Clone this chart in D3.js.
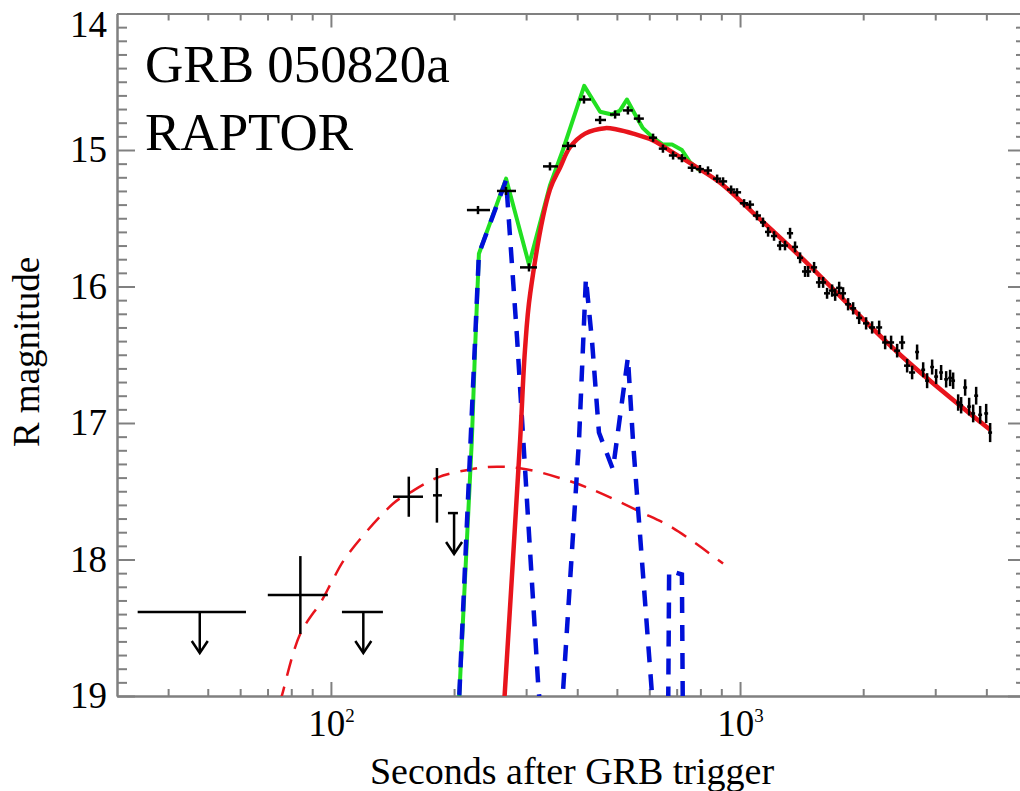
<!DOCTYPE html>
<html>
<head>
<meta charset="utf-8">
<script src="https://cdn.jsdelivr.net/npm/d3@7"></script>
<style>
body { margin: 0; background: #fff; }
text { font-family: "Liberation Serif", "Times New Roman", serif; fill: #000; }
.axis path, .axis line { stroke: #808080; stroke-width: 2; }
</style>
</head>
<body>
<div id="chart"></div>
<script>

// x ticks (seconds, log) and y ticks (R mag)
var xMajor = [100, 1000];
var xMinor = [40, 50, 60, 70, 80, 90, 200, 300, 400, 500, 600, 700, 800, 900, 2000, 3000, 4000];
var yMajor = [14, 15, 16, 17, 18, 19];

// model curves
var redSolidT   = [262, 266, 290, 298, 307, 343, 363, 384, 418, 468, 500, 548, 613, 686, 768, 894, 1076, 1402, 2462, 4086];
var redSolidMag = [19.3, 18.98, 17.13, 16.47, 16.05, 15.29, 15.13, 14.98, 14.88, 14.84, 14.85, 14.88, 14.93, 15.02, 15.11, 15.24, 15.46, 15.78, 16.50, 17.05];

var greenT   = [203, 206, 221, 225, 230, 268, 305, 343, 369, 416, 455, 486, 509, 529, 554, 579, 613, 648, 682, 721, 755, 798];
var greenMag = [19.2, 18.99, 17.13, 16.47, 15.76, 15.21, 15.84, 15.26, 15.00, 14.53, 14.72, 14.74, 14.71, 14.63, 14.74, 14.84, 14.91, 14.96, 14.96, 15.00, 15.09, 15.15];

var blueT   = [203, 206, 230, 268, 285, 321, 327, 367, 369, 404, 420, 435, 452, 489, 532, 548, 609, 616, 667, 671, 721, 725];
var blueMag = [19.2, 18.99, 15.76, 15.22, 16.37, 18.91, 19.2, 19.2, 18.98, 17.13, 15.94, 16.41, 17.07, 17.34, 16.52, 17.15, 18.98, 19.2, 19.2, 18.08, 18.11, 19.2];

var redDashT   = [75, 76, 84, 95, 101, 109, 142, 156, 182, 219, 255, 302, 378, 437, 570, 686, 909];
var redDashMag = [19.05, 18.99, 18.55, 18.30, 18.15, 17.98, 17.59, 17.51, 17.40, 17.34, 17.32, 17.34, 17.42, 17.49, 17.65, 17.77, 18.03];

// upper limits: [t, tLo, tHi, mag]
var upperLimits = [
    [47.8, 33.7, 62.0, 18.385],
    [120, 106.4, 134.0, 18.385],
    [200, 193.2, 204.4, 17.66]
];

// early detections: [t, tLo, tHi, mag, magErr]
var earlyPoints = [
    [84.2, 70.1, 98.3, 18.26, 0.285],
    [155, 141.8, 167.9, 17.54, 0.147],
    [181.6, 177.6, 186.8, 17.53, 0.20],
    [228.8, 215, 244.8, 15.44, 0.03],
    [267.9, 254.6, 283.4, 15.30, 0.03],
    [304.9, 289.8, 318.9, 15.86, 0.03],
    [343.1, 329.9, 358.9, 15.12, 0.03],
    [379.7, 367.1, 397.2, 14.97, 0.03],
    [415.5, 404.1, 432.2, 14.63, 0.03],
    [454.8, 442.1, 470.3, 14.78, 0.03]
];

// later detections: [t, dt, mag, magErr]
var decayPoints = [
    [495, 14, 14.74, 0.03], [532, 15, 14.71, 0.03], [566, 16, 14.77, 0.03],
    [613, 14, 14.91, 0.03], [648, 15, 14.99, 0.03], [686, 16, 15.04, 0.03],
    [721, 17, 15.06, 0.03], [763, 18, 15.13, 0.03], [798, 18, 15.14, 0.03],
    [835, 19, 15.15, 0.03], [879, 20, 15.21, 0.03], [909, 21, 15.23, 0.03],
    [951, 22, 15.29, 0.03], [983, 23, 15.31, 0.03], [1023, 24, 15.39, 0.03],
    [1058, 24, 15.40, 0.03], [1100, 25, 15.48, 0.035], [1138, 19, 15.53, 0.035],
    [1171, 20, 15.60, 0.035], [1211, 21, 15.63, 0.035], [1252, 21, 15.70, 0.035],
    [1288, 22, 15.70, 0.035], [1325, 23, 15.61, 0.04], [1363, 23, 15.71, 0.04],
    [1402, 24, 15.79, 0.04], [1442, 25, 15.89, 0.04], [1467, 25, 15.89, 0.04],
    [1517, 26, 15.86, 0.04], [1560, 27, 15.97, 0.04], [1596, 27, 15.97, 0.04],
    [1632, 28, 16.05, 0.04], [1679, 29, 16.03, 0.045], [1708, 29, 16.06, 0.045],
    [1747, 30, 16.01, 0.045], [1786, 30, 16.05, 0.045], [1837, 31, 16.13, 0.045],
    [1890, 32, 16.16, 0.045], [1955, 33, 16.23, 0.045], [2033, 35, 16.27, 0.045],
    [2103, 36, 16.30, 0.045], [2188, 37, 16.30, 0.05], [2263, 38, 16.41, 0.05],
    [2340, 40, 16.41, 0.05], [2421, 41, 16.47, 0.05], [2490, 42, 16.41, 0.05],
    [2561, 44, 16.58, 0.05], [2634, 45, 16.63, 0.05], [2709, 30, 16.48, 0.055],
    [2803, 31, 16.61, 0.055], [2866, 32, 16.69, 0.055], [2948, 32, 16.59, 0.055],
    [3015, 33, 16.66, 0.055], [3101, 34, 16.63, 0.055], [3190, 35, 16.68, 0.06],
    [3262, 36, 16.67, 0.06], [3318, 36, 16.69, 0.06], [3413, 38, 16.85, 0.06],
    [3471, 38, 16.87, 0.06], [3550, 39, 16.74, 0.06], [3631, 40, 16.88, 0.065],
    [3714, 41, 16.93, 0.065], [3777, 42, 16.80, 0.065], [3863, 42, 16.94, 0.065],
    [3996, 44, 16.93, 0.07], [4086, 45, 17.07, 0.07]
];


var margin = {top: 13.5, left: 117};
var width = 909;
var height = 682.5;

var svg = d3.select("#chart")
    .append("svg")
    .attr("width", 1020)
    .attr("height", 791);

var g = svg.append("g")
    .attr("transform", "translate(" + margin.left + "," + margin.top + ")");

var x = d3.scaleLog().domain([30, 5000]).range([0, width]);
var y = d3.scaleLinear().domain([14, 19]).range([0, height]);

g.append("clipPath")
    .attr("id", "plotClip")
    .append("rect")
    .attr("width", width)
    .attr("height", height);


// axes, ticks pointing inward on all four sides
var yMinor = d3.range(140, 191).map(function(v) { return v / 10; })
    .filter(function(v) { return yMajor.indexOf(v) < 0; });

function addAxis(axis, tr) {
    return g.append("g")
        .attr("class", "axis")
        .attr("transform", tr)
        .call(axis);
}

addAxis(d3.axisBottom(x).tickValues(xMinor).tickSizeInner(-7).tickSizeOuter(0).tickFormat(""), "translate(0," + height + ")");
var xb = addAxis(d3.axisBottom(x).tickValues(xMajor).tickSizeInner(-14).tickSizeOuter(0).tickFormat(""), "translate(0," + height + ")");
addAxis(d3.axisTop(x).tickValues(xMinor).tickSizeInner(-7).tickSizeOuter(0).tickFormat(""), "translate(0,0)");
addAxis(d3.axisTop(x).tickValues(xMajor).tickSizeInner(-14).tickSizeOuter(0).tickFormat(""), "translate(0,0)");

addAxis(d3.axisLeft(y).tickValues(yMinor).tickSizeInner(-10).tickSizeOuter(0).tickFormat(""), "translate(0,0)");
var yl = addAxis(d3.axisLeft(y).tickValues(yMajor).tickSizeInner(-18).tickSizeOuter(0).tickPadding(10).tickFormat(d3.format("d")), "translate(0,0)");
addAxis(d3.axisRight(y).tickValues(yMinor).tickSizeInner(-10).tickSizeOuter(0).tickFormat(""), "translate(" + width + ",0)");
addAxis(d3.axisRight(y).tickValues(yMajor).tickSizeInner(-18).tickSizeOuter(0).tickFormat(""), "translate(" + width + ",0)");

yl.selectAll(".tick text")
    .attr("font-size", 37)
    .attr("font-family", null)
    .attr("dy", function(d) { return d == 14 ? "0.62em" : "0.32em"; });

// 10^n labels under the major ticks
xb.selectAll(".tick").each(function(d) {
    var t = d3.select(this).append("text")
        .attr("y", 40)
        .attr("text-anchor", "middle")
        .attr("font-size", 37);
    t.append("tspan").text("10");
    t.append("tspan")
        .attr("dy", -14.5)
        .attr("font-size", 19)
        .text(Math.round(Math.log10(d)));
});


// model curves
function series(ts, ms) {
    return ts.map(function(t, i) { return [t, ms[i]]; });
}

var line = d3.line()
    .x(function(d) { return x(d[0]); })
    .y(function(d) { return y(d[1]); });

var smooth = d3.line()
    .curve(d3.curveCatmullRom)
    .x(function(d) { return x(d[0]); })
    .y(function(d) { return y(d[1]); });

var curves = g.append("g").attr("clip-path", "url(#plotClip)");

curves.append("path")
    .attr("d", smooth(series(redDashT, redDashMag)))
    .attr("fill", "none")
    .attr("stroke", "#e8141c")
    .attr("stroke-width", 2.5)
    .attr("stroke-dasharray", "17,11");

curves.append("path")
    .attr("d", line(series(greenT, greenMag)))
    .attr("fill", "none")
    .attr("stroke", "#22e022")
    .attr("stroke-width", 4)
    .attr("stroke-linejoin", "round");

curves.append("path")
    .attr("d", line(series(blueT, blueMag)))
    .attr("fill", "none")
    .attr("stroke", "#0010d8")
    .attr("stroke-width", 4.5)
    .attr("stroke-dasharray", "16,12");

curves.append("path")
    .attr("d", smooth(series(redSolidT, redSolidMag)))
    .attr("fill", "none")
    .attr("stroke", "#e8141c")
    .attr("stroke-width", 4.5)
    .attr("stroke-linejoin", "round");


// data points
var pts = g.append("g")
    .attr("stroke", "#000")
    .attr("stroke-width", 2.5)
    .attr("fill", "none");

function errCross(t, tLo, tHi, m, dm) {
    pts.append("line")
        .attr("x1", x(tLo)).attr("x2", x(tHi))
        .attr("y1", y(m)).attr("y2", y(m));
    pts.append("line")
        .attr("x1", x(t)).attr("x2", x(t))
        .attr("y1", y(m - dm)).attr("y2", y(m + dm));
}

earlyPoints.forEach(function(d) {
    errCross(d[0], d[1], d[2], d[3], d[4]);
});

decayPoints.forEach(function(d) {
    errCross(d[0], d[0] - d[1], d[0] + d[1], d[2], d[3]);
});

upperLimits.forEach(function(d) {
    var tipY = y(d[3] + 0.3);
    pts.append("line")
        .attr("x1", x(d[1])).attr("x2", x(d[2]))
        .attr("y1", y(d[3])).attr("y2", y(d[3]));
    pts.append("line")
        .attr("x1", x(d[0])).attr("x2", x(d[0]))
        .attr("y1", y(d[3])).attr("y2", tipY);
    pts.append("path")
        .attr("d", "M" + (x(d[0]) - 8) + "," + (tipY - 12) + "L" + x(d[0]) + "," + tipY + "L" + (x(d[0]) + 8) + "," + (tipY - 12));
});


// labels
svg.append("text")
    .attr("x", 145).attr("y", 82)
    .attr("font-size", 53)
    .text("GRB 050820a");

svg.append("text")
    .attr("x", 145).attr("y", 150)
    .attr("font-size", 53)
    .text("RAPTOR");

svg.append("text")
    .attr("x", 572).attr("y", 784)
    .attr("text-anchor", "middle")
    .attr("font-size", 38)
    .text("Seconds after GRB trigger");

svg.append("text")
    .attr("transform", "translate(39,352) rotate(-90)")
    .attr("text-anchor", "middle")
    .attr("font-size", 37)
    .text("R magnitude");

</script>
</body>
</html>
